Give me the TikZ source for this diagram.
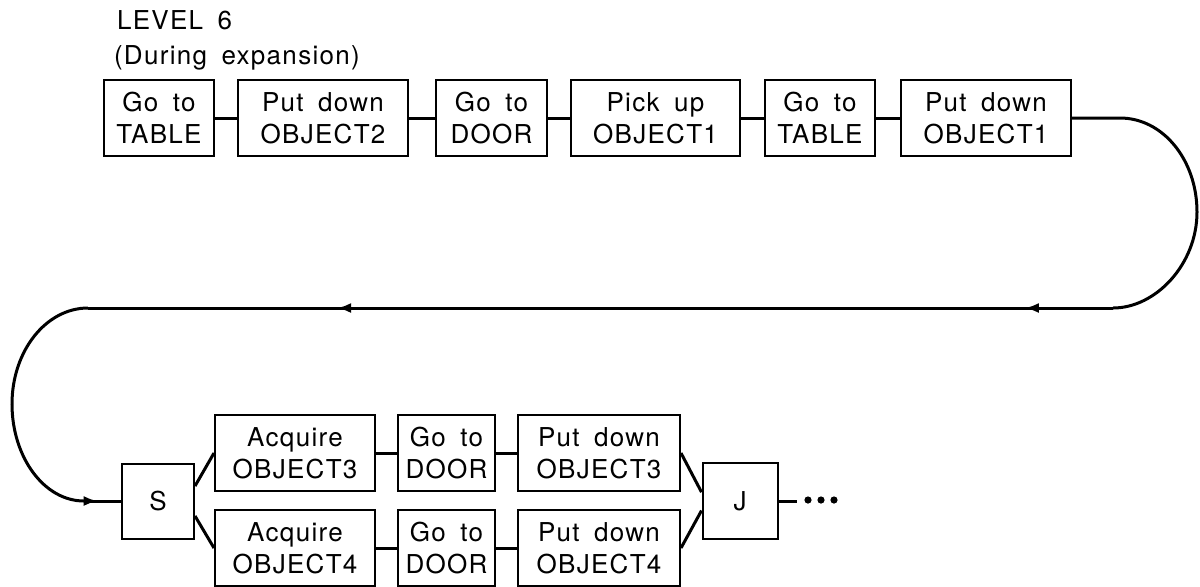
\documentclass[tikz,border=0pt]{standalone}
\usepackage{fontspec}
\setmainfont{TeX Gyre Heros}[LetterSpace=5, WordSpace=1.7]
\usetikzlibrary{arrows.meta, decorations.markings}

\begin{document}
\begin{tikzpicture}[x=0.5pt,y=-0.5pt,
    task/.style={draw, line width=1pt, minimum height=38pt, inner sep=1pt,
        align=center, font=\fontsize{13}{16}\selectfont},
    link/.style={line width=1.5pt},
    heading/.style={anchor=base west, font=\fontsize{13}{16}\selectfont}]
    % Define dimensions
    \def\toprow{118}
    \def\upper{453}
    \def\lower{548}
    \def\back{308}
    \def\tip{\arrow{Latex[length=7pt,width=5pt]}}
    \useasboundingbox (0,0) rectangle (1200,586);
    % Heading
    \node[heading] (level) at (110,29) {LEVEL 6};
    \node[heading] (phase) at (107,64) {(During expansion)};
    % Top row of actions
    \foreach \name/\cx/\w/\txt in {t1/159/110/{Go to\\TABLE}, t2/323/170/{Put down\\OBJECT2},
            t3/491.5/111/{Go to\\DOOR}, t4/655.5/169/{Pick up\\OBJECT1},
            t5/820/110/{Go to\\TABLE}, t6/986/170/{Put down\\OBJECT1}}
        \node[task, minimum width=\w*0.5pt] (\name) at (\cx,\toprow) {\txt};
    \foreach \a/\b in {t1/t2, t2/t3, t3/t4, t4/t5, t5/t6}
        \draw[link] (\a) -- (\b);
    % Split and join
    \node[task, minimum width=36pt, minimum height=37.5pt] (S) at (158,501) {S};
    \node[task, minimum width=37.5pt] (J) at (740,501) {J};
    % Two parallel branches
    \foreach \name/\cx/\w/\cy/\txt in {a3/295/160/\upper/{Acquire\\OBJECT3}, g3/446.5/97/\upper/{Go to\\DOOR},
            p3/599/162/\upper/{Put down\\OBJECT3}, a4/295/160/\lower/{Acquire\\OBJECT4},
            g4/446.5/97/\lower/{Go to\\DOOR}, p4/599/162/\lower/{Put down\\OBJECT4}}
        \node[task, minimum width=\w*0.5pt] (\name) at (\cx,\cy) {\txt};
    \foreach \a/\b in {a3/g3, g3/p3, a4/g4, g4/p4}
        \draw[link] (\a) -- (\b);
    \draw[link] (S.22) -- (a3.west);
    \draw[link] (S.-22) -- (a4.west);
    \draw[link] (p3.east) -- (J.167);
    \draw[link] (p4.east) -- (J.194);
    % Return loop from the top row to S
    \coordinate (r1) at (1120,\toprow);
    \coordinate (r2) at (1113,\back);
    \coordinate (l1) at (88,\back);
    \coordinate (l2) at (84,501);
    \draw[link] (t6) -- (r1) .. controls (1163,\toprow) and (1197,160) .. (1197,212)
        .. controls (1197,264) and (1156,\back) .. (r2);
    \draw[link, postaction={decorate}, decoration={markings,
        mark=at position 0.086 with {\tip}, mark=at position 0.757 with {\tip}}] (r2) -- (l1);
    \draw[link] (l1) .. controls (46,\back) and (12,351) .. (12,404)
        .. controls (12,457) and (44,501) .. (l2);
    \draw[link, postaction={decorate}, decoration={markings,
        mark=at position 0.37 with {\tip}}] (l2) -- (S);
    % Continuation after J
    \coordinate (tail) at (797,501);
    \draw[link] (J) -- (tail);
    \foreach \x in {808,821,834}
        \fill (\x,500) circle (1.8pt);
\end{tikzpicture}
\end{document}
